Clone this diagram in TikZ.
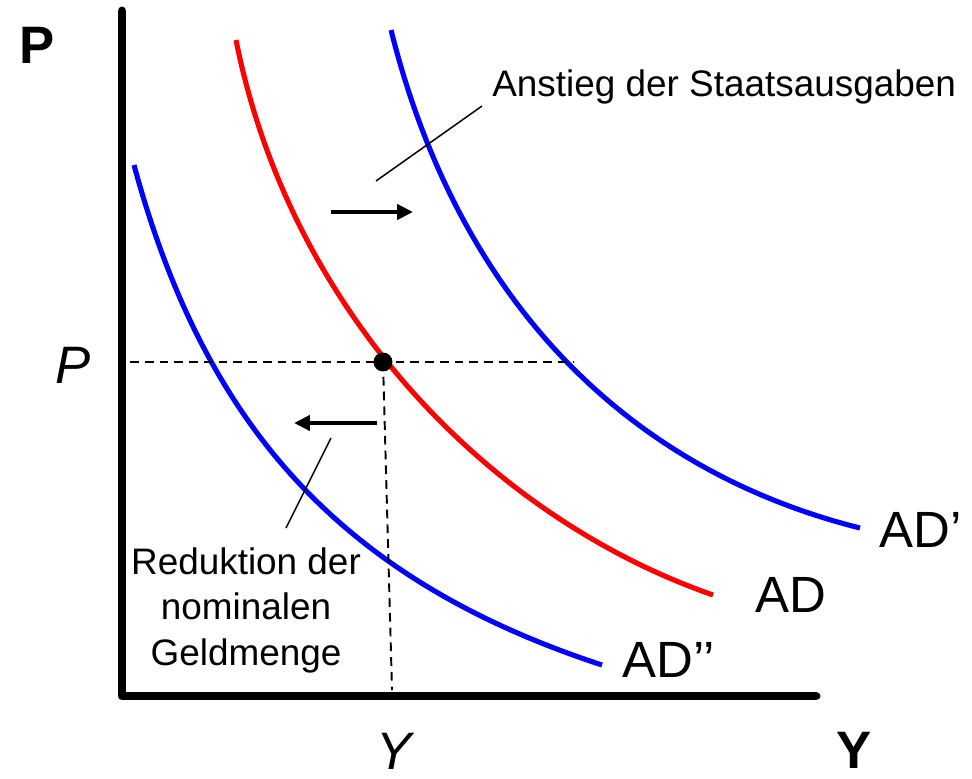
\documentclass[tikz,border=0pt]{standalone}
\usepackage{fontspec}
\setmainfont{Liberation Sans}
\usetikzlibrary{arrows.meta}
\begin{document}
\begin{tikzpicture}[x=0.02cm,y=-0.02cm,
  axisline/.style={line width=5.1pt, line cap=round, line join=round},
  curve/.style={line width=2.9pt},
  guide/.style={line width=1.1pt, dash pattern=on 5pt off 3.4pt},
  shiftarrow/.style={line width=2.3pt, -{Triangle[length=9pt,width=8.5pt]}},
  leader/.style={line width=0.85pt},
  note/.style={inner sep=0pt, font=\fontsize{21}{26}\selectfont},
  curvelbl/.style={inner sep=0pt, anchor=base west, font=\fontsize{29}{34}\selectfont},
  axlbl/.style={inner sep=0pt, anchor=base west, font=\fontsize{30}{36}\selectfont}]
\useasboundingbox (0,0) rectangle (972,778);
% axes
\coordinate (top) at (122,11);
\coordinate (origin) at (122,696);
\coordinate (right) at (816,696);
\draw[axisline] (top) -- (origin) -- (right);
% curves
\draw[curve, red] (236,40) .. controls (290,311) and (489,517) .. (713,595);
\draw[curve, blue] (391,30) .. controls (457,294) and (621,468) .. (860,528);
\draw[curve, blue] (134,165) .. controls (206,431) and (346,581) .. (602,665);
% equilibrium
\node (E) [circle, fill=black, inner sep=0pt, minimum size=10.8pt] at (383,362) {};
\coordinate (hL) at (130,362);
\coordinate (hR) at (573,362);
\coordinate (vB) at (392,690);
\draw[guide] (hL) -- (hR);
\draw[guide] (E.center) -- (vB);
% shift arrows
\coordinate (rA) at (331,212); \coordinate (rB) at (413,212);
\coordinate (lA) at (377,423); \coordinate (lB) at (294,423);
\draw[shiftarrow] (rA) -- (rB);
\draw[shiftarrow] (lA) -- (lB);
% labels
\node (anstieg) [note, anchor=base west] at (492,96) {Anstieg der Staatsausgaben};
\coordinate (a1) at (376,181); \coordinate (a2) at (482,106);
\draw[leader] (a1) -- (a2);
\node (reduktion) [note, anchor=north, align=center] at (246,547) {Reduktion der\\nominalen\\Geldmenge};
\coordinate (b1) at (286,528); \coordinate (b2) at (331,438);
\draw[leader] (b1) -- (b2);
\node (ad1) [curvelbl] at (879,547) {AD’};
\node (ad0) [curvelbl] at (755,612) {AD};
\node (ad2) [curvelbl] at (622,677) {AD’’};
\node (Paxis) [axlbl, font=\fontsize{30}{36}\selectfont\bfseries] at (19,63) {P};
\node (Pval) [axlbl, font=\fontsize{30}{36}\selectfont\itshape] at (55,383) {P};
\node (Yval) [axlbl, font=\fontsize{30}{36}\selectfont\itshape] at (376,769) {Y};
\node (Yaxis) [axlbl, font=\fontsize{30}{36}\selectfont\bfseries] at (836,768) {Y};
\end{tikzpicture}
\end{document}
